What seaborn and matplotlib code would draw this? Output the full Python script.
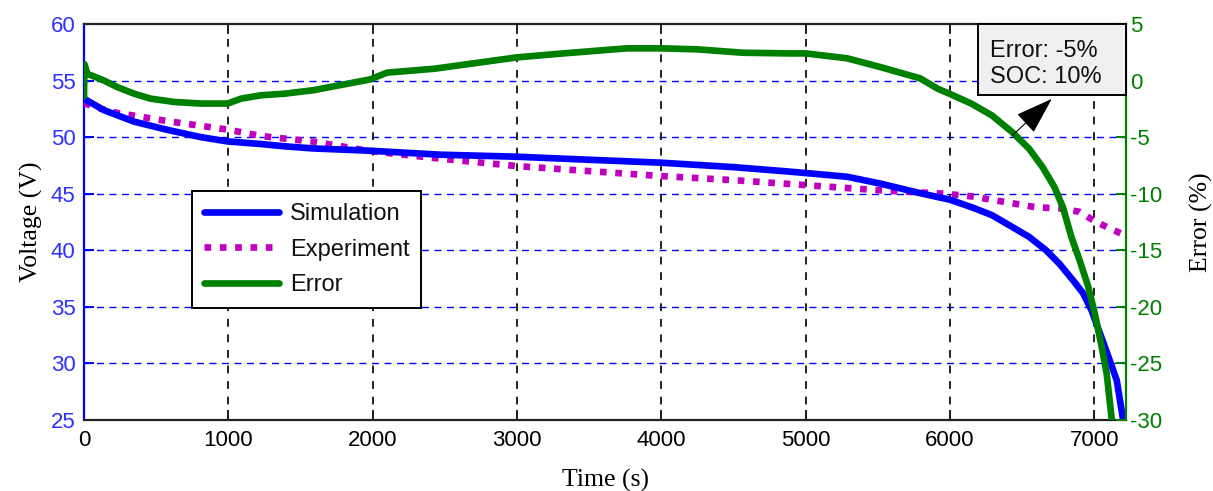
import numpy as np
import pandas as pd
import matplotlib
matplotlib.use("Agg")
import matplotlib.pyplot as plt
from matplotlib.patches import Rectangle
import seaborn as sns

# ---- data ----
t_sim = [0, 139, 347, 579, 810, 995, 1227, 1389, 1590, 1982, 2467, 3000, 3500, 4000,
         4500, 4892, 5287, 5516, 5793, 6000, 6152, 6292, 6432, 6549, 6666, 6759, 6853,
         6923, 6981, 7040, 7098, 7156, 7200]
v_sim = [53.4, 52.38, 51.37, 50.64, 50.0, 49.62, 49.39, 49.19, 49.0, 48.8, 48.45, 48.27,
         48.0, 47.74, 47.35, 46.95, 46.5, 45.9, 45.05, 44.47, 43.8, 43.1, 42.06, 41.18,
         40.0, 38.8, 37.35, 36.2, 34.7, 32.65, 30.6, 28.5, 25.0]

t_exp = [0, 185, 393, 602, 810, 1007, 1227, 1590, 1982, 2467, 3000, 3555, 4000, 4500,
         5000, 5516, 5965, 6152, 6385, 6596, 6759, 6899, 6993, 7086, 7200]
v_exp = [53.0, 52.24, 51.8, 51.37, 51.0, 50.64, 50.1, 49.6, 48.77, 48.1, 47.44, 46.95,
         46.56, 46.2, 45.76, 45.3, 45.0, 44.76, 44.26, 43.8, 43.7, 43.4, 42.65, 42.06, 41.4]

t_err = [0, 3, 23, 139, 231, 347, 463, 625, 810, 995, 1088, 1227, 1389, 1590, 1982, 2100,
         2430, 3000, 3320, 3763, 4000, 4248, 4567, 4892, 5000, 5287, 5516, 5793, 5918,
         6000, 6152, 6292, 6432, 6549, 6642, 6724, 6783, 6841, 6899, 6958, 7004, 7051,
         7086, 7121, 7140]
err = [-1.4, 1.45, 0.6, 0.0, -0.58, -1.16, -1.6, -1.89, -2.03, -2.03, -1.6, -1.3, -1.16,
       -0.85, 0.1, 0.7, 1.05, 2.05, 2.4, 2.85, 2.85, 2.76, 2.46, 2.4, 2.4, 1.97, 1.2, 0.2,
       -0.74, -1.18, -2.06, -3.09, -4.56, -6.03, -7.65, -9.41, -11.2, -13.8, -15.9,
       -18.2, -20.6, -23.5, -25.9, -29.9, -32.0]

x_ticks = [0, 1000, 2000, 3000, 4000, 5000, 6000, 7000]
v_ticks = [25, 30, 35, 40, 45, 50, 55, 60]
e_ticks = [-30, -25, -20, -15, -10, -5, 0, 5]

annot_point = (6432, -4.85)  # point on error curve
annot_head = (6706, -1.62)   # arrow head near the box
annot_text = "Error: -5%\nSOC: 10%"

# ---- style ----
sns.set_theme(style="white")
plt.rcParams['font.family'] = ['Liberation Sans', 'DejaVu Sans']
plt.rcParams['axes.unicode_minus'] = False
plt.rcParams['text.color'] = 'black'

BLUE = "#0000ff"
MAG = "#bf00bf"
GREEN = "#008000"
TICK_BLUE = "#3030ff"
LW = 4.8

fig = plt.figure(figsize=(12.13, 4.91), dpi=100)
ax = fig.add_axes([84/1213, 1-420/491, (1126-84)/1213, (420-24)/491])
ax2 = ax.twinx()

df_sim = pd.DataFrame({"t": t_sim, "v": v_sim})
df_exp = pd.DataFrame({"t": t_exp, "v": v_exp})
df_err = pd.DataFrame({"t": t_err, "e": err})

sns.lineplot(data=df_sim, x="t", y="v", ax=ax, color=BLUE, lw=LW,
             label="Simulation", zorder=4)
sns.lineplot(data=df_exp, x="t", y="v", ax=ax, color=MAG, lw=LW,
             label="Experiment", zorder=3)
ax.lines[-1].set_linestyle((0, (1.0, 1.3)))
ax.lines[-1].set_dash_capstyle('butt')
sns.lineplot(data=df_err, x="t", y="e", ax=ax2, color=GREEN, lw=LW,
             label="Error", zorder=4)

ax.set_xlim(0, 7220)
ax.set_ylim(25, 60)
ax2.set_ylim(-30, 5)
ax.set_xticks(x_ticks)
ax.set_yticks(v_ticks)
ax2.set_yticks(e_ticks)

# grids
ax.grid(False)
ax2.grid(False)
for v in v_ticks[1:-1]:
    ax.axhline(v, color=BLUE, lw=1.0, ls=(0, (5, 4)), zorder=1)
for x in x_ticks[1:]:
    ax.axvline(x, color="#222222", lw=1.4, ls=(0, (4, 4)), zorder=1)

# spines
for s in ["top", "bottom"]:
    ax.spines[s].set_color("#222222")
    ax.spines[s].set_linewidth(1.6)
    ax2.spines[s].set_visible(False)
ax.spines["left"].set_color(BLUE)
ax.spines["left"].set_linewidth(1.6)
ax.spines["right"].set_visible(False)
ax2.spines["left"].set_visible(False)
ax2.spines["right"].set_color(GREEN)
ax2.spines["right"].set_linewidth(1.6)

ax.tick_params(axis="x", direction="in", length=7, width=1.4, colors="#222222",
               labelsize=16, pad=7, top=True, bottom=True)
ax.tick_params(axis="x", labelcolor="black")
ax.tick_params(axis="y", direction="in", length=7, width=1.4, colors=BLUE,
               labelsize=16, pad=6, left=True, right=False)
ax.tick_params(axis="y", labelcolor=TICK_BLUE)
ax2.tick_params(axis="y", direction="in", length=7, width=1.4, colors=GREEN,
                labelsize=16, pad=3)

serif = ['Liberation Serif', 'DejaVu Serif']
ax.set_xlabel("Time (s)", fontsize=18.5, family=serif, color="black", labelpad=13)
ax.set_ylabel("Voltage (V)", fontsize=18.5, family=serif, color="black", labelpad=6)
ax2.set_ylabel("Error (%)", fontsize=18.5, family=serif, color="black", labelpad=20)

# legend
for a in (ax, ax2):
    lg = a.get_legend()
    if lg is not None:
        lg.remove()
h1, l1 = ax.get_legend_handles_labels()
h2, l2 = ax2.get_legend_handles_labels()
leg = ax2.legend(h1 + h2, l1 + l2, loc="upper left",
                 bbox_to_anchor=((192-84)/1042, (420-191)/396), borderaxespad=0,
                 fontsize=17, frameon=True, fancybox=False, framealpha=1,
                 edgecolor="black", handlelength=3.2, handletextpad=0.45,
                 labelspacing=0.58, borderpad=0.5)
leg.get_frame().set_linewidth(1.4)
leg.set_zorder(10)
for txt in leg.get_texts():
    txt.set_color("#111111")

# annotation box
ax2.add_patch(Rectangle(((978-84)/1042, (420-95)/396), (1126-978)/1042, (95-24)/396,
                        transform=ax2.transAxes, facecolor="#f0f0f0",
                        edgecolor="black", lw=1.4, zorder=8, clip_on=False))
ax2.text((990-84)/1042, (420-64)/396, annot_text, transform=ax2.transAxes,
         ha="left", va="center", fontsize=17, color="#111111", zorder=9,
         linespacing=1.25)
ax2.annotate("", xy=annot_head, xytext=annot_point,
             arrowprops=dict(arrowstyle="-|>,head_length=1.2,head_width=0.4",
                             color="black", lw=0.8, mutation_scale=20,
                             shrinkA=0, shrinkB=0), zorder=9)

fig.savefig("out.png", dpi=100)
